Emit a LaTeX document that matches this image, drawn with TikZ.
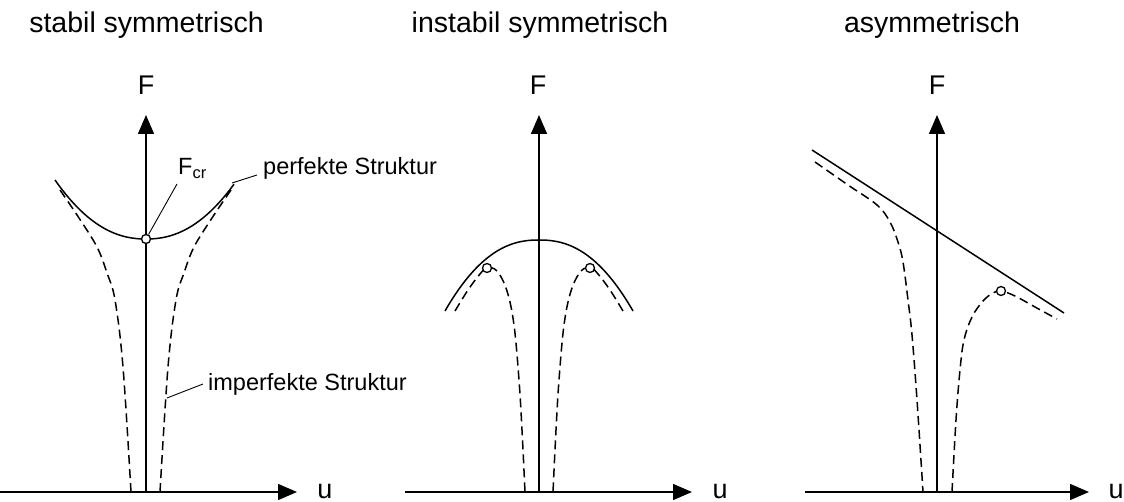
\documentclass[tikz,border=0pt]{standalone}
\usepackage{fontspec}
\setmainfont{Liberation Sans}
\usetikzlibrary{arrows.meta}
\begin{document}
\begin{tikzpicture}[x=1pt,y=-1pt,
  axis/.style={line width=1.5pt,-{Triangle[length=19pt,width=16pt]}},
  perf/.style={line width=1.5pt},
  imperf/.style={line width=1.5pt,dash pattern=on 9pt off 5pt},
  lead/.style={line width=0.9pt},
  ttl/.style={anchor=base,inner sep=0pt,font=\fontsize{28.5}{33}\selectfont},
  axl/.style={anchor=base,inner sep=0pt,font=\fontsize{27}{31}\selectfont},
  lbl/.style={anchor=base west,inner sep=0pt,font=\fontsize{23.5}{28}\selectfont},
  ptmark/.style={circle,draw,fill=white,line width=1.3pt,minimum size=9pt,inner sep=0pt}]
\useasboundingbox (0,0) rectangle (1124,502);

% titles
\node[ttl] (t1) at (146.5,33) {stabil symmetrisch};
\node[ttl] (t2) at (540,33) {instabil symmetrisch};
\node[ttl] (t3) at (932,33) {asymmetrisch};

% ---------- panel 1 ----------
\coordinate (o1) at (146,492);
\coordinate (x1s) at (0,492);
\coordinate (x1e) at (297,492);
\coordinate (y1e) at (146,115);
\draw[axis] (x1s) -- (x1e);
\draw[axis] (o1) -- (y1e);
\node[axl] (F1) at (146,95) {F};
\node[axl] (u1) at (325,498) {u};

\draw[perf] plot[domain=55:234,samples=80] (\x,{239-59*(abs(\x-146)/91)^2.2});
\draw[imperf] plot[smooth,tension=0.6] coordinates {(60,190) (79,218) (97,247) (107,273) (115,300) (123,367) (131,492)};
\draw[imperf] plot[smooth,tension=0.6] coordinates {(231,190) (212,218) (194,247) (184,273) (176,300) (168,367) (160,492)};

\node[ptmark] (fcr) at (146,239) {};
\node[lbl] (lFcr) at (178,175) {F\textsubscript{cr}};
\coordinate (fcrEnd) at (177,184);
\draw[lead] (fcr) -- (fcrEnd);

\node[lbl] (lPerf) at (263,175) {perfekte Struktur};
\coordinate (pA) at (232,183);
\coordinate (pB) at (257,175);
\draw[lead] (pA) -- (pB);

\node[lbl] (lImp) at (208,390) {imperfekte Struktur};
\coordinate (iA) at (167,398);
\coordinate (iB) at (203,384);
\draw[lead] (iA) -- (iB);

% ---------- panel 2 ----------
\coordinate (o2) at (539,492);
\coordinate (x2s) at (405,492);
\coordinate (x2e) at (692,492);
\coordinate (y2e) at (539,115);
\draw[axis] (x2s) -- (x2e);
\draw[axis] (o2) -- (y2e);
\node[axl] (F2) at (538,95) {F};
\node[axl] (u2) at (720,498) {u};

\draw[perf] plot[domain=445:633,samples=80] (\x,{240+71*(abs(\x-539)/94)^2.3});
\draw[imperf] plot[smooth,tension=0.6] coordinates {(455,311) (468,290) (480,274) (487,268) (497,271) (507,291) (514,325) (519,380) (522,430) (525,492)};
\draw[imperf] plot[smooth,tension=0.6] coordinates {(623,311) (610,290) (598,274) (591,268) (581,271) (571,291) (564,325) (559,380) (556,430) (553,492)};
\node[ptmark] (m2l) at (487,268) {};
\node[ptmark] (m2r) at (590,268) {};

% ---------- panel 3 ----------
\coordinate (o3) at (937,492);
\coordinate (x3s) at (805,492);
\coordinate (x3e) at (1089,492);
\coordinate (y3e) at (937,115);
\draw[axis] (x3s) -- (x3e);
\draw[axis] (o3) -- (y3e);
\node[axl] (F3) at (937,95) {F};
\node[axl] (u3) at (1116,498) {u};

\coordinate (lA) at (812,150);
\coordinate (lB) at (1064,313);
\draw[perf] (lA) -- (lB);
\draw[imperf] plot[smooth,tension=0.6] coordinates {(815,162) (848,185) (877,205) (890,222) (898,242) (903,262) (908,300) (912,335) (917,400) (923,492)};
\draw[imperf] plot[smooth,tension=0.6] coordinates {(952,492) (956,420) (960,370) (964,340) (972,317) (983,301) (993,293) (1001,291) (1015,296) (1035,307) (1057,319)};
\node[ptmark] (m3) at (1001,291) {};
\end{tikzpicture}
\end{document}
